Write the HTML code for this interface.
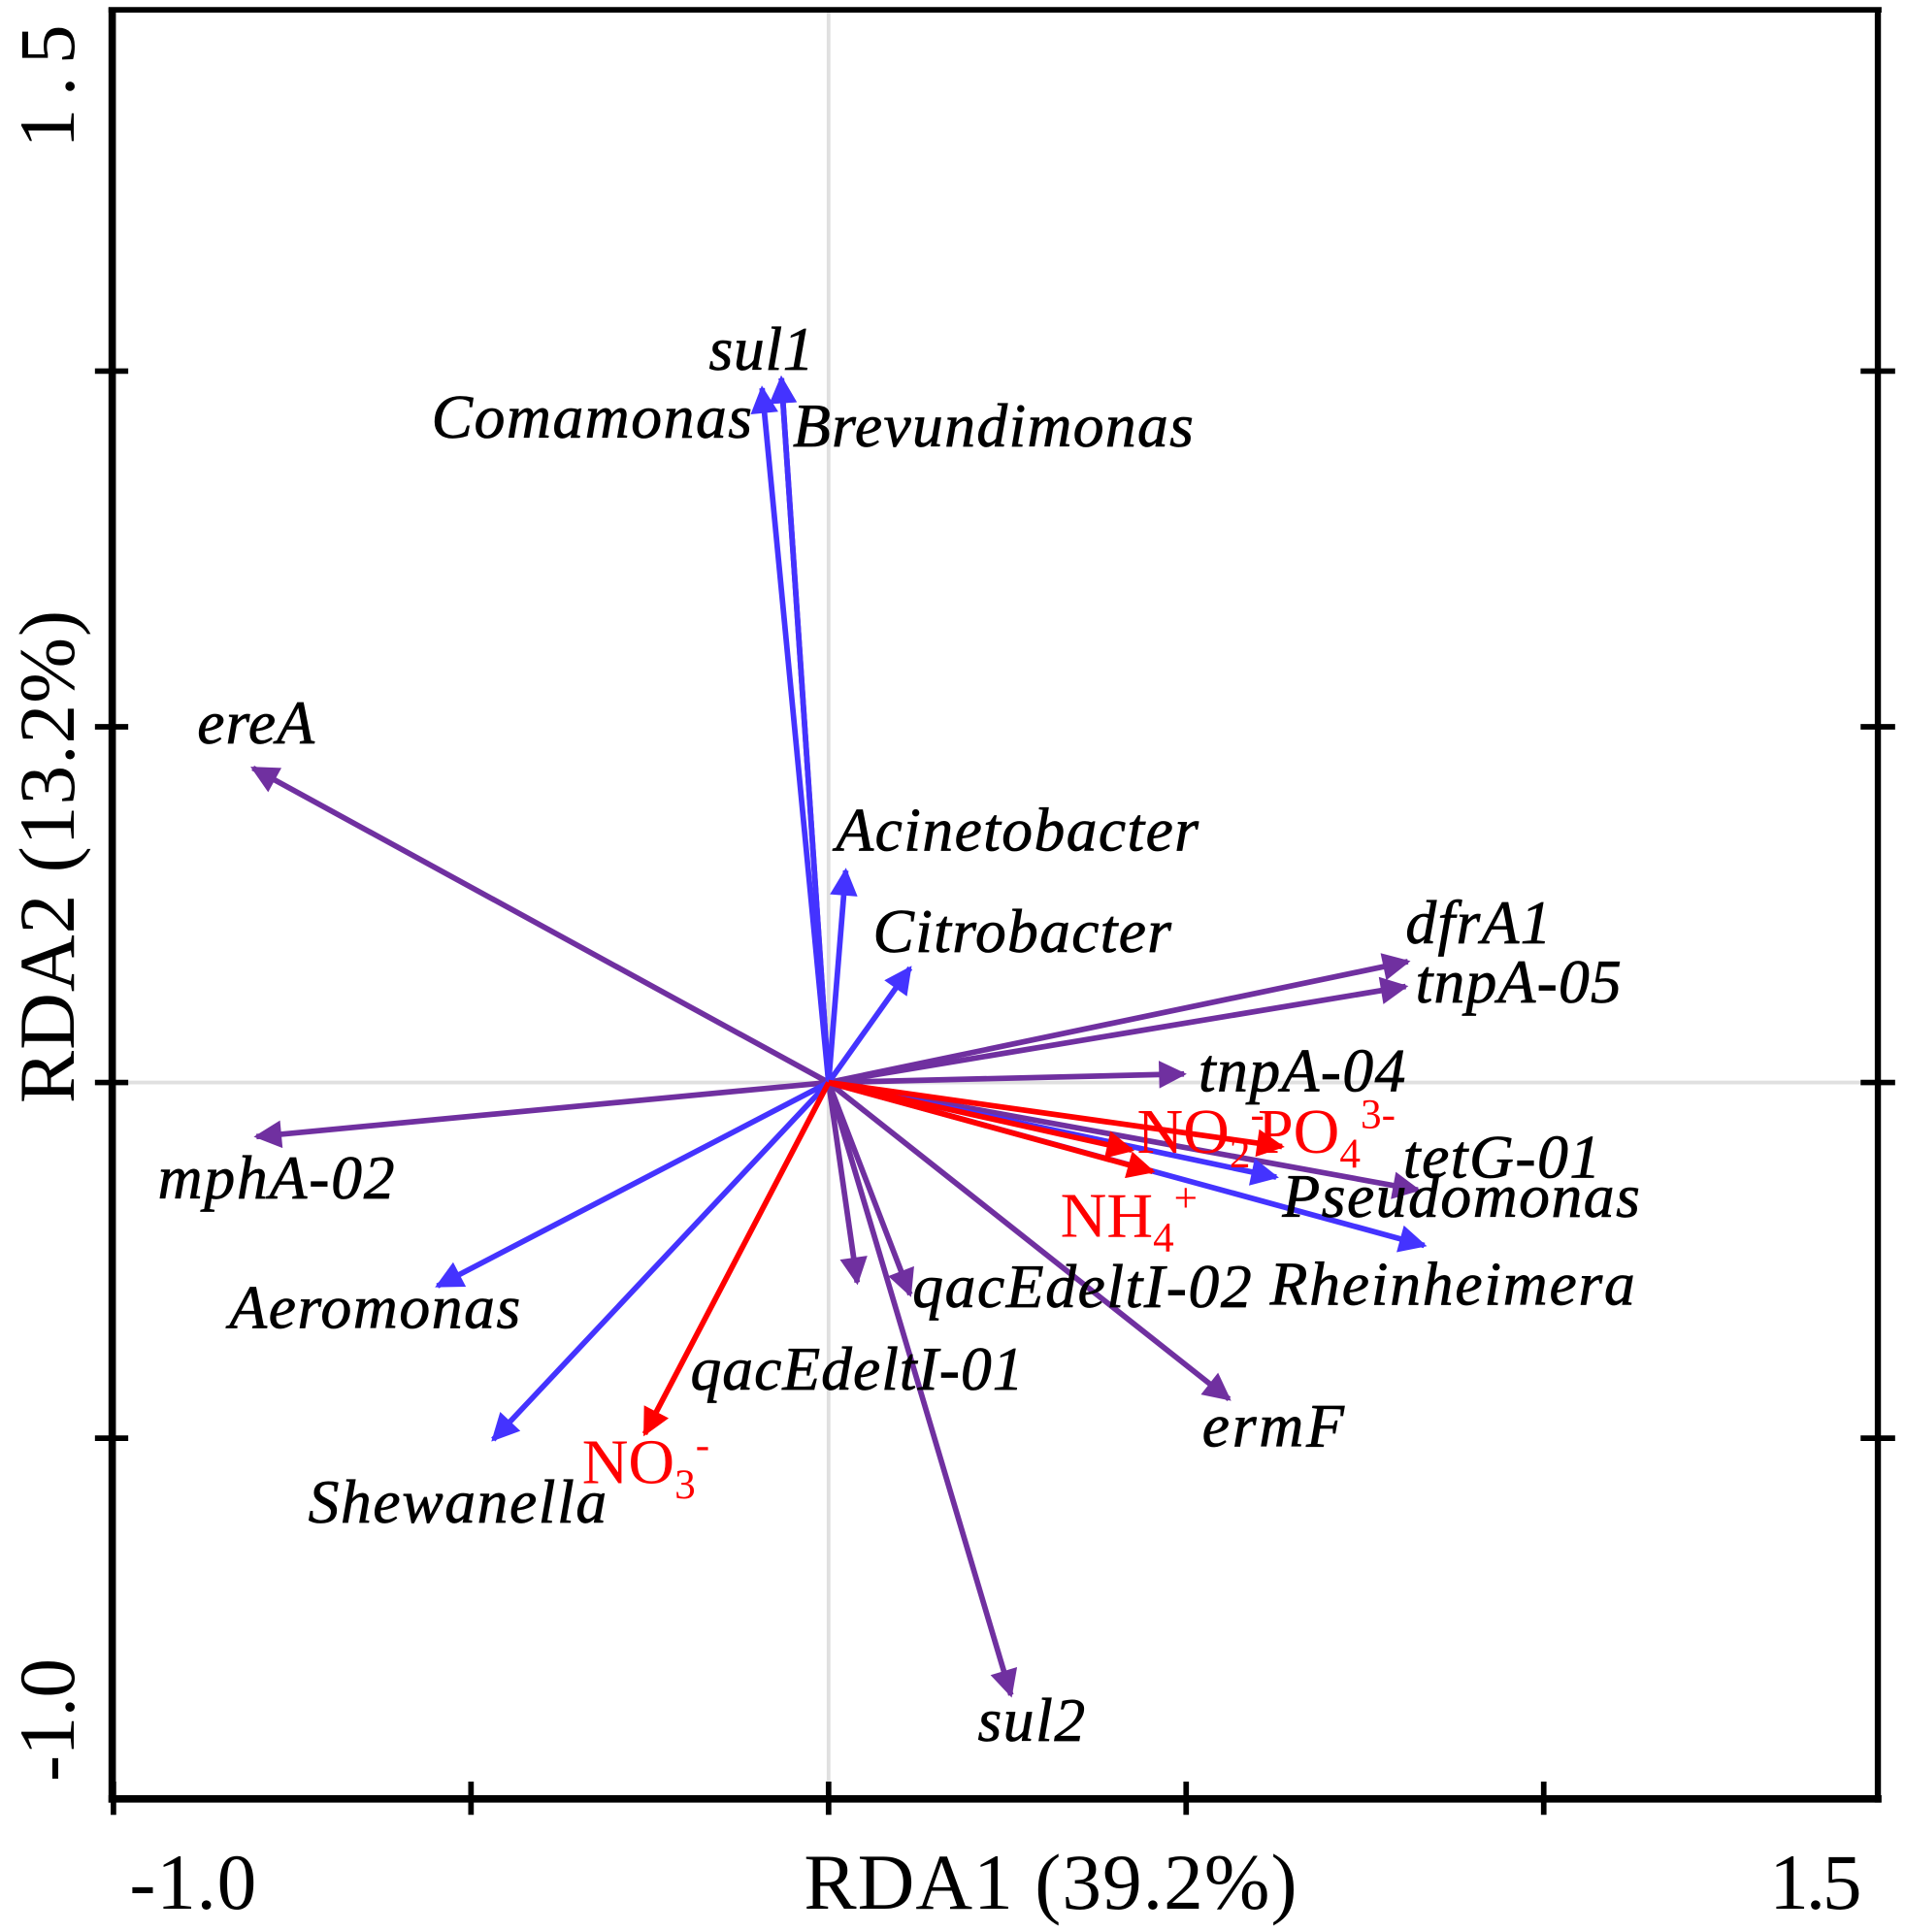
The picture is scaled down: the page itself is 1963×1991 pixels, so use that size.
<!DOCTYPE html>
<html><head><meta charset="utf-8"><style>
html,body{margin:0;padding:0;background:#fff;}
svg{display:block;}
text{font-family:"Liberation Serif",serif;}
.lab{font-style:italic;font-size:50px;fill:#000;stroke:#000;stroke-width:0.6px;}
.red{font-size:52px;fill:#ff0000;}
.ax{font-size:64px;fill:#000;}
</style></head><body>
<svg id="chart" width="1963" height="1991" viewBox="0 0 1545 1567" preserveAspectRatio="none" xmlns="http://www.w3.org/2000/svg">
<defs>
<marker id="m-blue" viewBox="0 0 10 10" refX="9" refY="5" markerWidth="5.5" markerHeight="5" orient="auto" markerUnits="strokeWidth"><path d="M0,0 L10,5 L0,10 z" fill="#4433ff"/></marker>
<marker id="m-purple" viewBox="0 0 10 10" refX="9" refY="5" markerWidth="5.5" markerHeight="5" orient="auto" markerUnits="strokeWidth"><path d="M0,0 L10,5 L0,10 z" fill="#7030a0"/></marker>
<marker id="m-red" viewBox="0 0 10 10" refX="9" refY="5" markerWidth="5.5" markerHeight="5" orient="auto" markerUnits="strokeWidth"><path d="M0,0 L10,5 L0,10 z" fill="#ff0000"/></marker>
</defs>
<line x1="672" y1="8" x2="672" y2="1459" stroke="#e0e0e0" stroke-width="3"/>
<line x1="91" y1="878" x2="1523" y2="878" stroke="#e0e0e0" stroke-width="3"/>
<g id="arrows"></g>
<g id="labels">
<text class="lab" x="575" y="300" textLength="85">sul1</text>
<text class="lab" x="350" y="355" textLength="260">Comamonas</text>
<text class="lab" x="643" y="362" textLength="325">Brevundimonas</text>
<text class="lab" x="160" y="603" textLength="95">ereA</text>
<text class="lab" x="678" y="690" textLength="294">Acinetobacter</text>
<text class="lab" x="708" y="772" textLength="242">Citrobacter</text>
<text class="lab" x="1140" y="765" textLength="118">dfrA1</text>
<text class="lab" x="1148" y="813" textLength="167">tnpA-05</text>
<text class="lab" x="972" y="885" textLength="168">tnpA-04</text>
<text class="lab" x="128" y="972" textLength="192">mphA-02</text>
<text class="lab" x="1138" y="955" textLength="160">tetG-01</text>
<text class="lab" x="1040" y="987" textLength="290">Pseudomonas</text>
<text class="lab" x="1030" y="1058" textLength="296">Rheinheimera</text>
<text class="lab" x="186" y="1077" textLength="236">Aeromonas</text>
<text class="lab" x="740" y="1060" textLength="275">qacEdeltI-02</text>
<text class="lab" x="560" y="1127" textLength="270">qacEdeltI-01</text>
<text class="lab" x="975" y="1173" textLength="115">ermF</text>
<text class="lab" x="250" y="1235" textLength="242">Shewanella</text>
<text class="lab" x="793" y="1412" textLength="87">sul2</text>
<text class="red" x="922" y="935">NO<tspan font-size="34" dy="12">2</tspan><tspan font-size="34" dy="-32">-</tspan></text>
<text class="red" x="1020" y="935">PO<tspan font-size="34" dy="12">4</tspan><tspan font-size="34" dy="-32">3-</tspan></text>
<text class="red" x="860" y="1003">NH<tspan font-size="34" dy="12">4</tspan><tspan font-size="34" dy="-32">+</tspan></text>
<text class="red" x="472" y="1203">NO<tspan font-size="34" dy="12">3</tspan><tspan font-size="34" dy="-32">-</tspan></text>
</g>
<g stroke="#000" fill="none">
<line x1="91" y1="6" x2="91" y2="1462" stroke-width="6"/>
<line x1="88" y1="1459" x2="1526" y2="1459" stroke-width="6"/>
<line x1="88" y1="8" x2="1526" y2="8" stroke-width="4.5"/>
<line x1="1523" y1="6" x2="1523" y2="1462" stroke-width="5"/>
</g>
<g id="ticks"></g>
<text class="ax" x="105" y="1548" textLength="103">-1.0</text>
<text class="ax" x="1435" y="1548" textLength="75">1.5</text>
<text class="ax" x="652" y="1548" textLength="400">RDA1 (39.2%)</text>
<text class="ax" transform="translate(60,895) rotate(-90)" x="0" y="0" textLength="400">RDA2 (13.2%)</text>
<text class="ax" transform="translate(60,120) rotate(-90)" x="0" y="0" textLength="100">1.5</text>
<text class="ax" transform="translate(60,1445) rotate(-90)" x="0" y="0" textLength="100">-1.0</text>
</svg>
<script>
const NS = "http://www.w3.org/2000/svg";
const speciesNames = ["Comamonas","Brevundimonas","Acinetobacter","Citrobacter","Pseudomonas","Rheinheimera","Aeromonas","Shewanella"];
const speciesX = [-0.093,-0.066,0.024,0.114,0.626,0.833,-0.547,-0.469];
const speciesY = [0.976,0.990,0.298,0.161,-0.133,-0.229,-0.286,-0.502];
const geneNames = ["sul1","ereA","mphA-02","dfrA1","tnpA-05","tnpA-04","tetG-01","qacEdeltI-02","qacEdeltI-01","ermF","sul2"];
const geneX = [-0.066,-0.805,-0.800,0.810,0.807,0.497,0.824,0.114,0.040,0.560,0.255];
const geneY = [0.990,0.442,-0.076,0.170,0.135,0.012,-0.151,-0.298,-0.281,-0.445,-0.861];
const envNames = ["NO3-","NO2-","PO43-","NH4+"];
const envX = [-0.257,0.424,0.634,0.453];
const envY = [-0.494,-0.095,-0.090,-0.125];
const xTicks = [-1.0,-0.5,0,0.5,1.0];
const yTicks = [1.0,0.5,0,-0.5];

function sx(v){ return 672 + v*580; }
function sy(v){ return 878 - v*577; }

const ag = document.getElementById('arrows');
function drawSet(names, xs, ys, color, marker, prefix){
  for (let i=0;i<names.length;i++){
    const l = document.createElementNS(NS,'line');
    l.setAttribute('x1', sx(0)); l.setAttribute('y1', sy(0));
    l.setAttribute('x2', sx(xs[i])); l.setAttribute('y2', sy(ys[i]));
    l.setAttribute('stroke', color); l.setAttribute('stroke-width', '4.5');
    l.setAttribute('marker-end', 'url(#'+marker+')');
    
    
    ag.appendChild(l);
  }
}
drawSet(geneNames, geneX, geneY, '#7030a0', 'm-purple', 'gene');
drawSet(speciesNames, speciesX, speciesY, '#4433ff', 'm-blue', 'species');
drawSet(envNames, envX, envY, '#ff0000', 'm-red', 'env');

const tg = document.getElementById('ticks');
function tick(x1,y1,x2,y2,name){
  const l = document.createElementNS(NS,'line');
  l.setAttribute('x1',x1); l.setAttribute('y1',y1); l.setAttribute('x2',x2); l.setAttribute('y2',y2);
  l.setAttribute('stroke','#000'); l.setAttribute('stroke-width','4.5');
  
  
  tg.appendChild(l);
}
xTicks.forEach(v=>{ tick(sx(v),1445,sx(v),1472,'x-tick'); });
yTicks.forEach(v=>{ tick(77,sy(v),104,sy(v),'y-tick-left'); tick(1509,sy(v),1537,sy(v),'y-tick-right'); });
</script>
</body></html>
